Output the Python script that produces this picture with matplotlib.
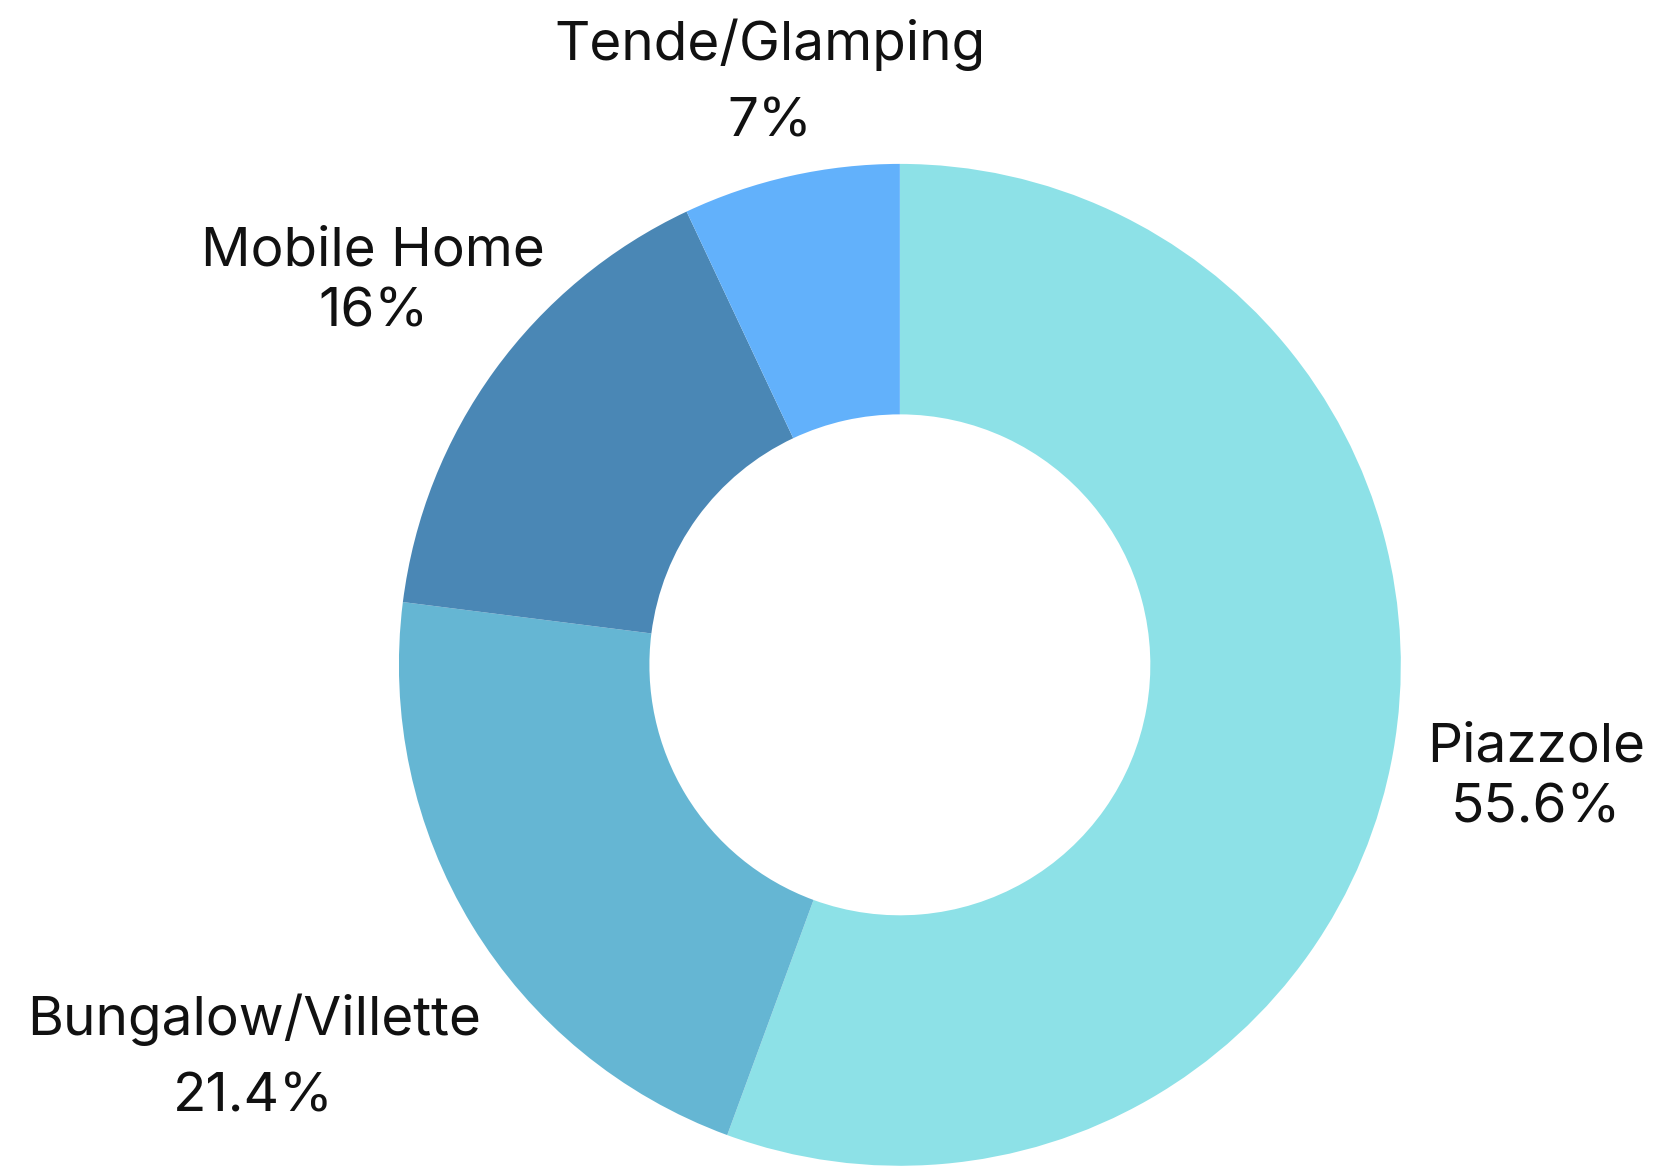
import numpy as np
import matplotlib
matplotlib.use("Agg")
import matplotlib.pyplot as plt

# Datos
etiquetas = ["Piazzole", "Bungalow/Villette", "Mobile Home", "Tende/Glamping"]
valores = [55.6, 21.4, 16, 7]
textos_pct = ["55.6%", "21.4%", "16%", "7%"]
colores = ["#8de1e7", "#65b6d3", "#4a87b5", "#62b1fb"]
# distancia radial de cada etiqueta (en radios) y espaciado entre lineas
distancias = [1.29, 1.51, 1.30, 1.19]
espaciados = [1.3, 1.7, 1.3, 1.7]

plt.rcParams["font.family"] = ["Inter", "DejaVu Sans"]

fig = plt.figure(figsize=(16.56, 11.67), dpi=100)
ax = fig.add_axes([0.2409, 0.001, 0.605, 0.8586])

wedges, _ = ax.pie(valores, colors=colores, startangle=90, counterclock=False,
                   radius=1, wedgeprops=dict(width=0.5, linewidth=0))

for w, etq, pct, d, ls in zip(wedges, etiquetas, textos_pct, distancias, espaciados):
    ang = np.deg2rad((w.theta1 + w.theta2) / 2)
    ax.text(d * np.cos(ang), d * np.sin(ang), etq + "\n" + pct,
            ha="center", va="center", fontsize=39.5, color="#111111",
            linespacing=ls, clip_on=False)

ax.set_xlim(-1, 1)
ax.set_ylim(-1, 1)
ax.set_aspect("equal")
ax.axis("off")

fig.savefig("out.png", dpi=100)
